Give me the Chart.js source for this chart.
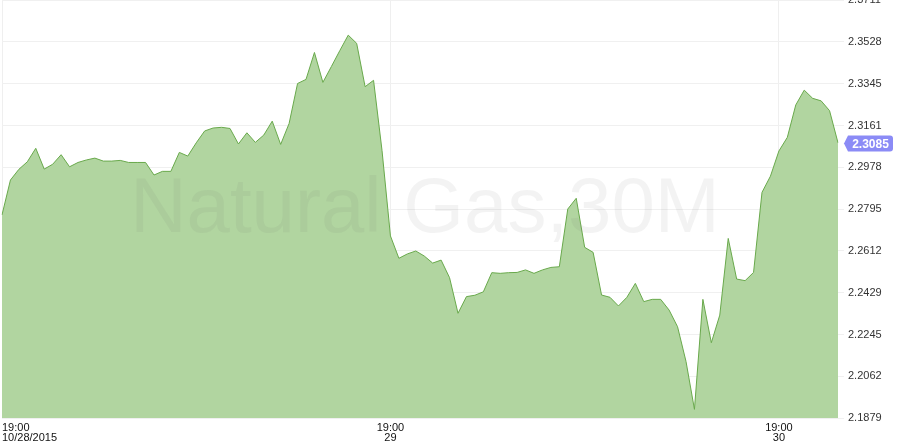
<!DOCTYPE html>
<html>
<head>
<meta charset="utf-8">
<script src="https://cdn.jsdelivr.net/npm/chart.js@4/dist/chart.umd.min.js"></script>
<style>
  html, body { margin: 0; padding: 0; background: #fff; }
  #wrap { width: 900px; height: 448px; position: relative; }
</style>
</head>
<body>
<div id="wrap"><canvas id="gasChart"></canvas></div>
<script>
// 30 minute bars, 46 per session (19:00 .. 16:30, then 18:00, 18:30)
const sessionDays = ['10/28/2015', '29', '30'];
const prices = [
    2.2769, 2.2922, 2.2969, 2.3002, 2.3061, 2.2970, 2.2991, 2.3033, 2.2980, 2.2999,
    2.3010, 2.3018, 2.3005, 2.3005, 2.3008, 2.2999, 2.2999, 2.2999, 2.2944, 2.2960,
    2.2960, 2.3043, 2.3027, 2.3085, 2.3137, 2.3150, 2.3153, 2.3148, 2.3080, 2.3129,
    2.3087, 2.3119, 2.3180, 2.3078, 2.3170, 2.3345, 2.3363, 2.3481, 2.3350, 2.3419,
    2.3489, 2.3557, 2.3521, 2.3331, 2.3359, 2.3052, 2.2677, 2.2579, 2.2598, 2.2611,
    2.2589, 2.2558, 2.2571, 2.2494, 2.2338, 2.2411, 2.2417, 2.2432, 2.2516, 2.2513,
    2.2516, 2.2517, 2.2528, 2.2513, 2.2528, 2.2539, 2.2542, 2.2795, 2.2842, 2.2627,
    2.2605, 2.2418, 2.2408, 2.2370, 2.2408, 2.2469, 2.2389, 2.2399, 2.2399, 2.2352,
    2.2279, 2.2127, 2.1917, 2.2399, 2.2209, 2.2330, 2.2666, 2.2488, 2.2481, 2.2517,
    2.2868, 2.2939, 2.3049, 2.3109, 2.3251, 2.3316, 2.3280, 2.3269, 2.3226, 2.3085
];
const yTicks = [2.1879, 2.2062, 2.2245, 2.2429, 2.2612, 2.2795, 2.2978, 2.3161, 2.3345, 2.3528, 2.3711];
const xTickIndex = [0, 46, 92];
const watermark = 'Natural Gas,30M';

// build the bar time labels
function buildTimes(count) {
    const out = [];
    let day = 0;
    for (let i = 0; i < count; i++) {
        const slot = i % 46;
        if (i > 0 && slot === 0) day++;
        let minutes;
        if (slot < 44) minutes = (19 * 60 + slot * 30) % (24 * 60);
        else minutes = 18 * 60 + (slot - 44) * 30;
        const hh = String(Math.floor(minutes / 60)).padStart(2, '0');
        const mm = String(minutes % 60).padStart(2, '0');
        out.push({ time: hh + ':' + mm, day: sessionDays[day] });
    }
    return out;
}
const times = buildTimes(prices.length);

// watermark over the area
const watermarkPlugin = {
    id: 'watermark',
    afterDatasetsDraw(chart) {
        const { ctx, chartArea } = chart;
        ctx.save();
        ctx.font = '78px Arial, "Liberation Sans", sans-serif';
        ctx.fillStyle = 'rgba(100,100,100,0.08)';
        ctx.textAlign = 'center';
        ctx.textBaseline = 'middle';
        ctx.fillText(watermark, (chartArea.left + chartArea.right) / 2 + 5, (chartArea.top + chartArea.bottom) / 2 + 1);
        ctx.restore();
    }
};

// last price flag on the right axis
const lastPricePlugin = {
    id: 'lastPrice',
    afterDraw(chart) {
        const { ctx } = chart;
        const yScale = chart.scales.y;
        const last = prices[prices.length - 1];
        const y = Math.round(yScale.getPixelForValue(last)) + 0.5;
        const x0 = 844, x1 = 893, h = 16, r = 3;
        ctx.save();
        ctx.fillStyle = '#8b8bf6';
        ctx.beginPath();
        ctx.moveTo(x0, y);
        ctx.lineTo(x0 + 4, y - h / 2);
        ctx.lineTo(x1 - r, y - h / 2);
        ctx.quadraticCurveTo(x1, y - h / 2, x1, y - h / 2 + r);
        ctx.lineTo(x1, y + h / 2 - r);
        ctx.quadraticCurveTo(x1, y + h / 2, x1 - r, y + h / 2);
        ctx.lineTo(x0 + 4, y + h / 2);
        ctx.closePath();
        ctx.fill();
        ctx.fillStyle = '#fff';
        ctx.font = 'bold 12px Arial, "Liberation Sans", sans-serif';
        ctx.textAlign = 'center';
        ctx.textBaseline = 'middle';
        ctx.fillText(last.toFixed(4), (x0 + 4 + x1) / 2, y + 1);
        ctx.restore();
    }
};

new Chart(document.getElementById('gasChart'), {
    type: 'line',
    data: {
        labels: times.map(t => t.time),
        datasets: [{
            data: prices,
            borderColor: '#69a94c',
            backgroundColor: '#b1d5a0',
            borderWidth: 1,
            fill: 'start',
            tension: 0,
            pointRadius: 0
        }]
    },
    options: {
        responsive: true,
        maintainAspectRatio: false,
        animation: false,
        layout: { padding: { left: 2, top: 0, right: 0, bottom: 0 } },
        plugins: {
            legend: { display: false },
            tooltip: { enabled: false }
        },
        scales: {
            x: {
                type: 'category',
                offset: false,
                afterBuildTicks(scale) {
                    scale.ticks = xTickIndex.concat([prices.length - 1]).map(v => ({ value: v }));
                },
                afterFit(scale) {
                    scale.height = 30;
                    scale.paddingLeft = 0;
                    scale.paddingRight = 0;
                },
                grid: {
                    color: ctx => (ctx.index < xTickIndex.length ? '#efefef' : 'rgba(0,0,0,0)'),
                    drawTicks: false
                },
                border: { display: false },
                ticks: {
                    autoSkip: false,
                    maxRotation: 0,
                    align: 'inner',
                    padding: 5,
                    color: '#111',
                    font: { family: 'Arial, "Liberation Sans", sans-serif', size: 11, lineHeight: 0.92 },
                    callback(value) {
                        if (!xTickIndex.includes(value)) return '';
                        return [times[value].time, times[value].day];
                    }
                }
            },
            y: {
                position: 'right',
                min: yTicks[0],
                max: yTicks[yTicks.length - 1],
                afterBuildTicks(scale) {
                    scale.ticks = yTicks.map(v => ({ value: v }));
                },
                afterFit(scale) {
                    scale.width = 62;
                    scale.paddingTop = 0;
                    scale.paddingBottom = 0;
                },
                grid: {
                    color: '#f0f0f0',
                    tickLength: 6
                },
                border: { display: false },
                ticks: {
                    padding: 4,
                    color: '#333',
                    font: { family: 'Arial, "Liberation Sans", sans-serif', size: 11 },
                    callback: v => Number(v).toFixed(4)
                }
            }
        }
    },
    plugins: [watermarkPlugin, lastPricePlugin]
});
</script>
</body>
</html>
